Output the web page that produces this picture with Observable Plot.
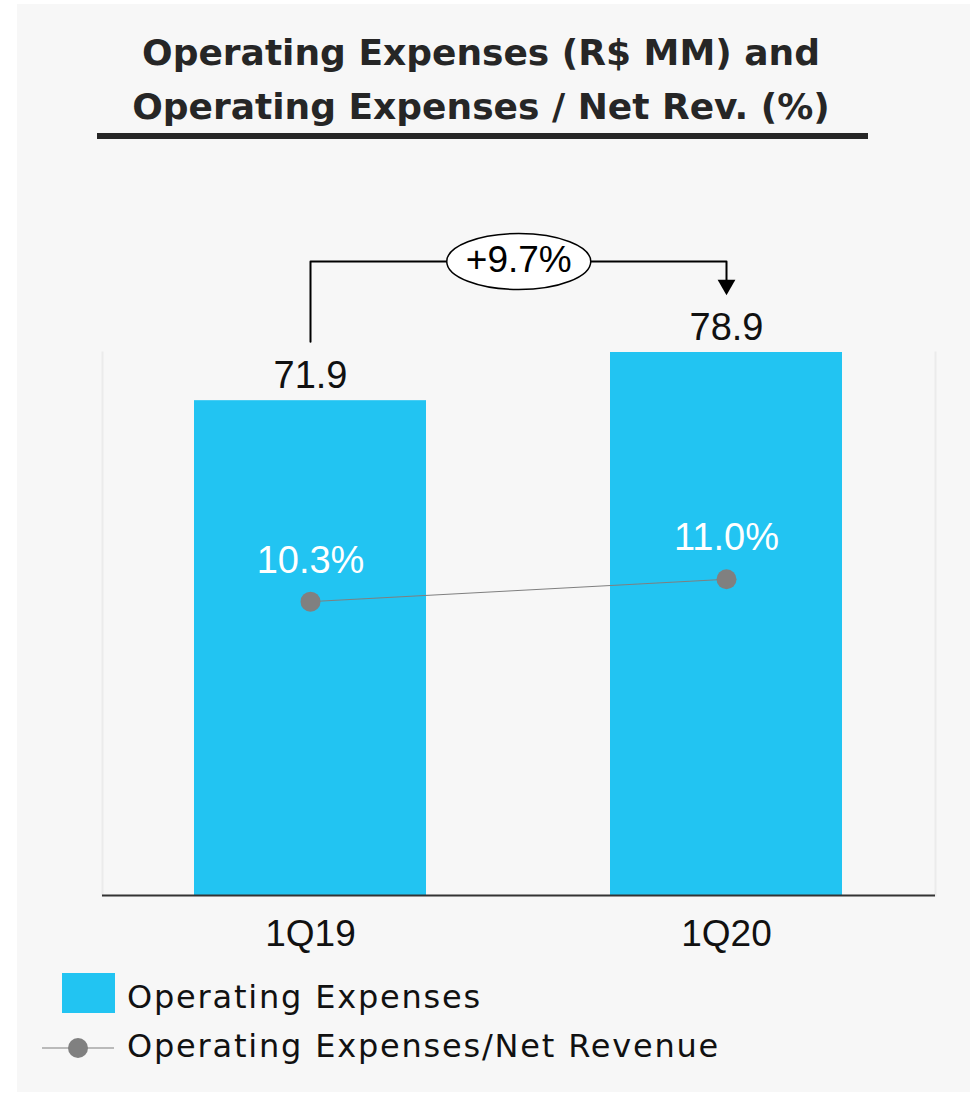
<!DOCTYPE html>
<html>
<head>
<meta charset="utf-8">
<script src="https://cdn.jsdelivr.net/npm/d3@7"></script>
<script src="https://cdn.jsdelivr.net/npm/@observablehq/plot@0.6"></script>
<style>
  html, body { margin: 0; padding: 0; background: #ffffff; }
  body { position: relative; width: 973px; height: 1095px; overflow: hidden; }
  #panel { position: absolute; left: 17px; top: 4px; width: 953px; height: 1088px; background: #f7f7f7; }
  #title { position: absolute; left: 0; top: 26px; width: 962px; text-align: center;
           font-family: "DejaVu Sans", sans-serif; font-weight: bold; font-size: 36px;
           line-height: 54px; color: #262626; }
  #rule { position: absolute; left: 97px; top: 133px; width: 771px; height: 6px; background: #262626; }
  #chart { position: absolute; left: 0; top: 150px; }
  #legend { position: absolute; left: 0; top: 960px; }
</style>
</head>
<body>
<div id="panel"></div>
<div id="title"></div>
<div id="rule"></div>
<div id="chart"></div>
<div id="legend"></div>
<script>
// ---- data ----
const titleLines = ["Operating Expenses (R$ MM) and", "Operating Expenses / Net Rev. (%)"];
const quarters = ["1Q19", "1Q20"];
const opexValues = [71.9, 78.9];            // R$ MM (bars)
const opexRatioValues = [10.3, 11.0];       // % of net revenue (line)
const ratioAxisDomain = [1.1, 18.1];        // secondary axis limits (%)
const legendLabels = ["Operating Expenses", "Operating Expenses/Net Revenue"];

// ---- styles ----
const barColor = "#22c4f2";
const dotColor = "#808080";

// ---- title ----
document.getElementById("title").innerHTML = titleLines.join("<br>");

// ---- layout ----
const W = 973, H = 820, mL = 102, mR = 38, mT = 202, mB = 75;
const padInner = 0.442, padOuter = 0.221;
const yMax = d3.max(opexValues);
const pxPerUnit = (H - mT - mB) / yMax;
const u = px => px / pxPerUnit;
const step = (W - mL - mR) / (quarters.length - padInner + 2 * padOuter);

const data = quarters.map((q, i) => ({quarter: q, opex: opexValues[i], ratio: opexRatioValues[i]}));
const toPrimary = d3.scaleLinear(ratioAxisDomain, [0, yMax]);

const growth = (opexValues[1] / opexValues[0] - 1) * 100;
const growthLabel = (growth >= 0 ? "+" : "") + growth.toFixed(1) + "%";

const topY = yMax + u(91);
const bracket = [
  {quarter: quarters[0], y: opexValues[0] + u(59)},
  {quarter: quarters[0], y: topY},
  {quarter: quarters[1], y: topY},
  {quarter: quarters[1], y: opexValues[1] + u(68)}
];
const arrowHead = [{quarter: quarters[1], y: opexValues[1] + u(67.5)}];

const ellipseSymbol = {
  draw(ctx) {
    const rx = 72, ry = 28, k = 0.5523;
    ctx.moveTo(rx, 0);
    ctx.bezierCurveTo(rx, ry * k, rx * k, ry, 0, ry);
    ctx.bezierCurveTo(-rx * k, ry, -rx, ry * k, -rx, 0);
    ctx.bezierCurveTo(-rx, -ry * k, -rx * k, -ry, 0, -ry);
    ctx.bezierCurveTo(rx * k, -ry, rx, -ry * k, rx, 0);
    ctx.closePath();
  }
};

const chart = Plot.plot({
  width: W, height: H,
  marginLeft: mL, marginRight: mR, marginTop: mT, marginBottom: mB,
  style: {background: "transparent", fontFamily: "Liberation Sans, Arial, sans-serif", color: "#111", overflow: "visible"},
  x: {domain: quarters, paddingInner: padInner, paddingOuter: padOuter, label: null},
  y: {domain: [0, yMax], axis: null},
  marks: [
    Plot.frame({anchor: "left", stroke: "#ebebeb", strokeWidth: 2}),
    Plot.frame({anchor: "right", stroke: "#ebebeb", strokeWidth: 2}),
    Plot.barY(data, {x: "quarter", y: "opex", fill: barColor}),
    Plot.ruleY([0], {stroke: "#333", strokeWidth: 2}),
    Plot.axisX({tickSize: 0, tickPadding: 24, fontSize: 37, label: null}),
    Plot.text(data, {x: "quarter", y: "opex", text: d => d.opex.toFixed(1), lineAnchor: "bottom", dy: -13, fontSize: 38, fill: "#111"}),
    Plot.line(data, {x: "quarter", y: d => toPrimary(d.ratio), stroke: "#7f7f7f", strokeWidth: 1}),
    Plot.dot(data, {x: "quarter", y: d => toPrimary(d.ratio), r: 10, fill: dotColor, stroke: null}),
    Plot.text(data, {x: "quarter", y: d => toPrimary(d.ratio), text: d => d.ratio.toFixed(1) + "%", lineAnchor: "bottom", dy: -29, fontSize: 38, fill: "#ffffff"}),
    Plot.line(bracket, {x: "quarter", y: "y", stroke: "#000", strokeWidth: 2, curve: "linear"}),
    Plot.dot(arrowHead, {x: "quarter", y: "y", symbol: "triangle", rotate: 180, r: 6.6, fill: "#000", stroke: null}),
    Plot.dot([{quarter: quarters[0], y: topY}], {x: "quarter", y: "y", symbol: ellipseSymbol, r: 5, dx: step / 2, fill: "#fff", stroke: "#000", strokeWidth: 1.5}),
    Plot.text([{quarter: quarters[0], y: topY}], {x: "quarter", y: "y", text: () => growthLabel, dx: step / 2, dy: -1, fontSize: 37, fill: "#000"})
  ]
});
document.getElementById("chart").appendChild(chart);

// ---- legend ----
const lg = d3.select("#legend").append("svg").attr("width", 973).attr("height", 120);
const lgFont = "DejaVu Sans, sans-serif";
lg.append("rect").attr("x", 62).attr("y", 13).attr("width", 53).attr("height", 40).attr("fill", barColor);
lg.append("text").attr("x", 127).attr("y", 48).attr("font-family", lgFont).attr("font-size", 32)
  .attr("letter-spacing", 1.8).attr("fill", "#111").text(legendLabels[0]);
lg.append("line").attr("x1", 42).attr("x2", 114).attr("y1", 88).attr("y2", 88).attr("stroke", "#a6a6a6").attr("stroke-width", 1.5);
lg.append("circle").attr("cx", 78).attr("cy", 88).attr("r", 10).attr("fill", dotColor);
lg.append("text").attr("x", 127).attr("y", 97).attr("font-family", lgFont).attr("font-size", 32)
  .attr("letter-spacing", 1.8).attr("fill", "#111").text(legendLabels[1]);
</script>
</body>
</html>
